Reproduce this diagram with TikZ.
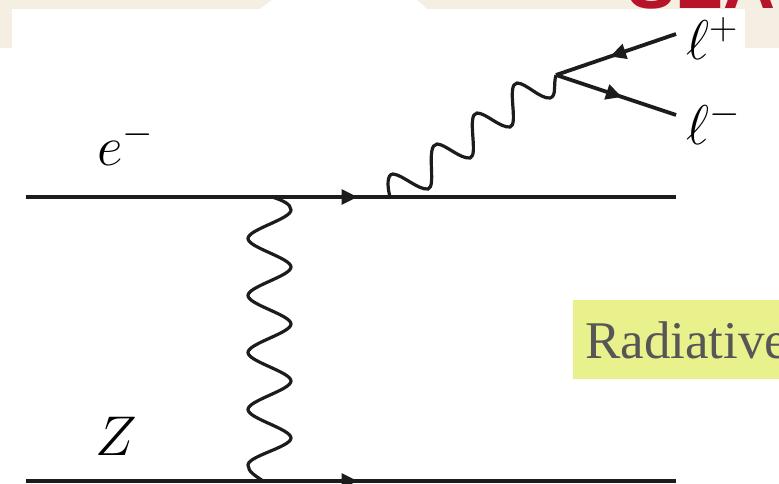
\documentclass[tikz,border=0pt]{standalone}
\usepackage{fix-cm}
\usepackage{xcolor}
\usepackage{amsmath,amssymb}
\usepackage{fontspec}
\setmainfont{Liberation Serif}
\newfontfamily\bannerfont{Liberation Sans}
\usepackage{tikz}
\usetikzlibrary{positioning,arrows.meta,decorations.markings}
\definecolor{cream}{HTML}{F4EEE3}
\definecolor{banner}{HTML}{B81429}
\definecolor{ink}{HTML}{1C1C1C}
\definecolor{lemon}{HTML}{E9F18C}
\definecolor{slate}{HTML}{565656}
\newcommand{\bigtext}[1]{\fontsize{#1}{#1}\selectfont}
\begin{document}
\begin{tikzpicture}[x=1pt, y=-1pt,
  fermion/.style={draw=ink, line width=3.2pt, postaction={decorate}, decoration={markings, mark=at position #1 with {\arrow[ink]{Triangle[length=16pt, width=15pt]}}}},
  lepton/.style={fermion=#1, line width=3.8pt},
  wave/.style={draw=ink, line width=3.2pt},
  label/.style={inner sep=0pt, text=black, font=\bigtext{56}}]
\useasboundingbox (0,0) rectangle (779,484);
% slide behind the figure
\fill[cream] (0,0) rectangle (779,48);
\begin{scope}
\clip (0,0) rectangle (779,9);
\node[anchor=base west, inner sep=0pt, text=banner, font=\bannerfont\bfseries\bigtext{72}] (logo) at (627,9) {SEA};
\end{scope}
\fill[white] (12,9) rectangle (745,48);
\fill[white] (260,9) -- (272,0) -- (417,0) -- (427,9) -- cycle;
\fill[white] (0,48) rectangle (779,484);
\node[fill=lemon, minimum width=206pt, minimum height=79pt, anchor=north west, inner sep=0pt] (tag) at (573,300) {};
\node[anchor=base west, inner sep=0pt, text=slate, font=\bigtext{53}] (radiative) at (585,358) {Radiative};
% vertices
\coordinate (ein) at (26,197);
\coordinate (eout) at (676,197);
\coordinate (zin) at (26,481);
\coordinate (zout) at (676,481);
\coordinate (top) at (272,197);
\coordinate (bot) at (263,481);
\coordinate (emit) at (390,197);
\coordinate (split) at (556,75);
\coordinate (lplus) at (676,34);
\coordinate (lminus) at (676,115);
% lines
\draw[fermion=0.51] (ein) -- (eout);
\draw[fermion=0.51] (zin) -- (zout);
\draw[lepton=0.55] (lplus) -- (split);
\draw[lepton=0.55] (split) -- (lminus);
\draw[wave] (top) .. controls (282,200) and (291,204) .. (291,210)
  \foreach \i in {0,...,3} {
    .. controls (291,{219+57*\i}) and (248,{229.5+57*\i}) .. (248,{238.5+57*\i})
    .. controls (248,{247.5+57*\i}) and (291,{258+57*\i}) .. (291,{267+57*\i})
  }
  .. controls (291,447) and (248,456) .. (248,465)
  .. controls (248,472) and (256,476) .. (bot);
\draw[wave] (emit) .. controls (387,186) and (387,174) .. (393,174)
  .. controls (403,175) and (418,190) .. (428,189)
  .. controls (437,187) and (425,145) .. (437,144)
  .. controls (445,144) and (460,159) .. (470,158)
  .. controls (479,156) and (466,114) .. (477,113)
  .. controls (486,113) and (500,128) .. (510,127)
  .. controls (519,125) and (506,84) .. (517,83)
  .. controls (526,83) and (540,99) .. (550,98)
  .. controls (557,96) and (553,85) .. (split);
% labels
\node[label, anchor=base west] (ellp) at (686,60) {$\ell^{+}$};
\node[label, anchor=base west] (ellm) at (686,145) {$\ell^{-}$};
\node[label, anchor=base west] (elec) at (97,165) {$e^{-}$};
\node[label, anchor=base west] (zed) at (95,455) {$Z$};
\end{tikzpicture}
\end{document}
